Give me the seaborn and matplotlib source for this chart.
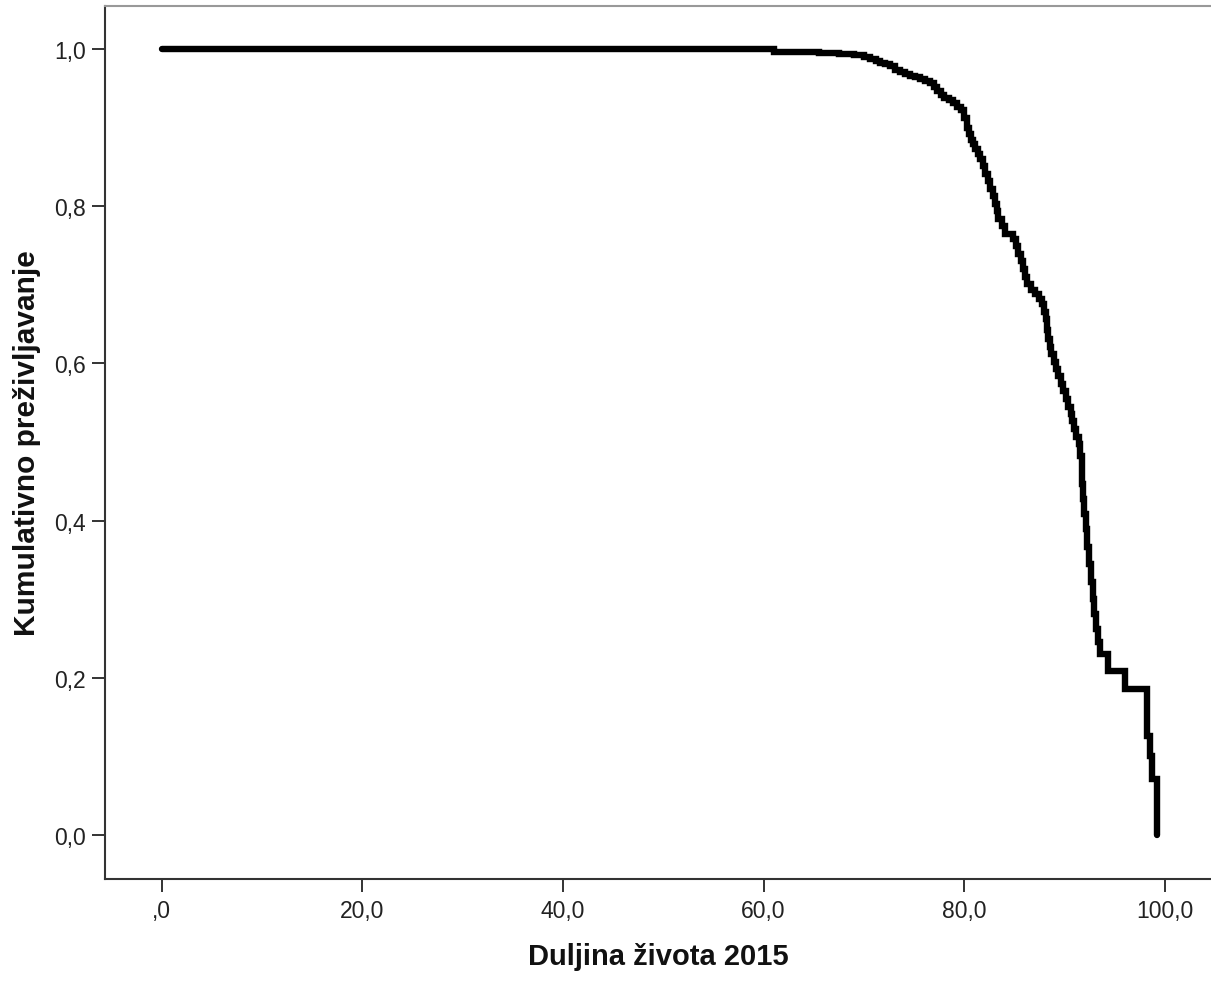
import matplotlib
matplotlib.use("Agg")
import matplotlib.pyplot as plt
import seaborn as sns
import pandas as pd

# Kaplan-Meier style survival steps
time_years = [0.0, 61.0, 65.5, 67.5, 69.0, 70.0, 70.6, 71.2, 71.6, 72.1, 72.6,
              73.1, 73.6, 74.1, 74.6, 75.1, 75.6, 76.1, 76.6, 77.0, 77.3, 77.7,
              78.0, 78.5, 78.9, 79.3, 79.7, 80.0, 80.3, 80.5, 80.7, 80.9, 81.1,
              81.4, 81.6, 81.9, 82.1, 82.4, 82.6, 82.9, 83.1, 83.3, 83.4, 83.8,
              84.1, 84.9, 85.2, 85.4, 85.7, 85.9, 86.1, 86.3, 86.7, 87.1, 87.5,
              87.8, 88.0, 88.2, 88.3, 88.4, 88.55, 88.7, 88.9, 89.1, 89.35, 89.6,
              89.85, 90.1, 90.35, 90.6, 90.75, 90.9, 91.15, 91.4, 91.55, 91.7,
              91.75, 91.8, 91.95, 92.1, 92.25, 92.4, 92.6, 92.8, 92.95, 93.1,
              93.3, 93.5, 94.3, 96.0, 98.2, 98.5, 98.7, 99.2]
survival = [1.0, 0.997, 0.995, 0.994, 0.992, 0.990, 0.988, 0.985, 0.983, 0.981,
            0.978, 0.974, 0.971, 0.969, 0.966, 0.964, 0.962, 0.960, 0.957, 0.952,
            0.947, 0.942, 0.938, 0.935, 0.931, 0.927, 0.922, 0.912, 0.900, 0.892,
            0.885, 0.879, 0.873, 0.867, 0.860, 0.851, 0.841, 0.832, 0.822, 0.813,
            0.803, 0.794, 0.784, 0.775, 0.765, 0.758, 0.749, 0.739, 0.730, 0.720,
            0.710, 0.701, 0.694, 0.688, 0.682, 0.676, 0.666, 0.656, 0.643, 0.631,
            0.621, 0.612, 0.602, 0.593, 0.584, 0.574, 0.565, 0.555, 0.545, 0.536,
            0.527, 0.517, 0.507, 0.497, 0.482, 0.466, 0.447, 0.427, 0.408, 0.389,
            0.367, 0.345, 0.322, 0.300, 0.281, 0.262, 0.246, 0.230, 0.209, 0.186,
            0.126, 0.100, 0.071, 0.0]

x_ticks = [0, 20, 40, 60, 80, 100]
x_tick_labels = [',0', '20,0', '40,0', '60,0', '80,0', '100,0']
y_ticks = [0.0, 0.2, 0.4, 0.6, 0.8, 1.0]
y_tick_labels = ['0,0', '0,2', '0,4', '0,6', '0,8', '1,0']

df = pd.DataFrame({'t': time_years, 's': survival})

sns.set_style("white")
plt.rcParams['font.family'] = ['Liberation Sans', 'DejaVu Sans']

fig = plt.figure(figsize=(12.11, 9.95), dpi=100)
ax = fig.add_axes([0.0867, 0.1156, 0.9133, 0.8774])

sns.lineplot(data=df, x='t', y='s', ax=ax, color='black', linewidth=4.6,
             drawstyle='steps-post', estimator=None, solid_joinstyle='miter')

ax.set_xlim(-5.65, 104.6)
ax.set_ylim(-0.056, 1.055)
ax.set_xticks(x_ticks)
ax.set_xticklabels(x_tick_labels)
ax.set_yticks(y_ticks)
ax.set_yticklabels(y_tick_labels)

ax.tick_params(axis='both', direction='out', length=9.5, width=1.4,
               color='#333333', labelsize=16.5, labelcolor='#222222', pad=4,
               bottom=True, left=True)
ax.tick_params(axis='x', pad=5)

for side in ['left', 'bottom']:
    ax.spines[side].set_color('#333333')
    ax.spines[side].set_linewidth(1.5)
ax.spines['top'].set_color('#999999')
ax.spines['top'].set_linewidth(1.5)
ax.spines['right'].set_visible(False)

ax.set_xlabel('Duljina života 2015', fontsize=21, fontweight='bold',
              labelpad=14, color='#111111')
ax.set_ylabel('Kumulativno preživljavanje', fontsize=21.5, fontweight='bold',
              labelpad=10, color='#111111')

fig.savefig('out.png', dpi=100, facecolor='white')
